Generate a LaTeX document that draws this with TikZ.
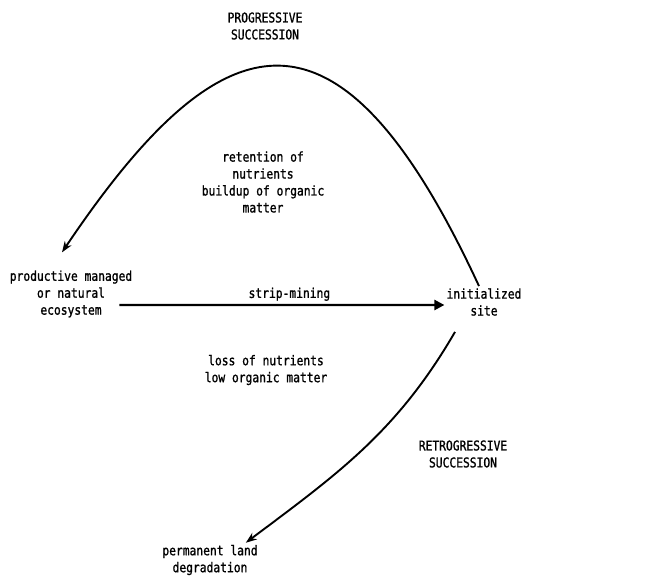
\documentclass[tikz,border=0pt]{standalone}
\usepackage{fontspec}
\newfontfamily\diagfont[FakeStretch=0.84,FakeBold=1.2]{DejaVu Sans Mono}
\usetikzlibrary{arrows.meta}

\begin{document}
\begin{tikzpicture}[x=1bp,y=-1bp,
  lbl/.style={font=\diagfont\fontsize{13.5}{17}\selectfont, align=center, inner sep=2bp},
  arc/.style={line width=1.9bp, -{Stealth[length=11bp,width=8bp]}},
  bar/.style={line width=2.4bp, -{Triangle[length=10bp,width=10bp]}}]
\useasboundingbox (0,0) rectangle (654,578);

\node[lbl] (prog) at (265,26) {PROGRESSIVE\\SUCCESSION};
\node[lbl] (keep) at (263,182) {retention of\\ nutrients\\buildup of organic\\matter};
\node[lbl] (eco) at (71,294) {productive managed\\or natural\\ecosystem};
\node[lbl] (site) at (484,302) {initialized\\site};
\node[lbl] (loss) at (266,370) {loss of nutrients\\low organic matter};
\node[lbl] (retro) at (463,454) {RETROGRESSIVE\\SUCCESSION};
\node[lbl] (perm) at (210,560) {permanent land\\degradation};

% strip-mining
\draw[bar, shorten <=-15bp] ([yshift=-11bp]eco.east) -- node[lbl, above=1bp] {strip-mining} ([yshift=-3bp]site.west);

% succession
\draw[arc] ([xshift=-5bp]site.north) .. controls +(-139,-300) and +(162,-241) .. ([shift={(-9bp,16bp)}]eco.north);
\draw[arc] ([shift={(-29bp,-14bp)}]site.south) .. controls +(-58,100) and +(92,-69) .. ([xshift=-14bp]perm.north east);
\end{tikzpicture}
\end{document}
